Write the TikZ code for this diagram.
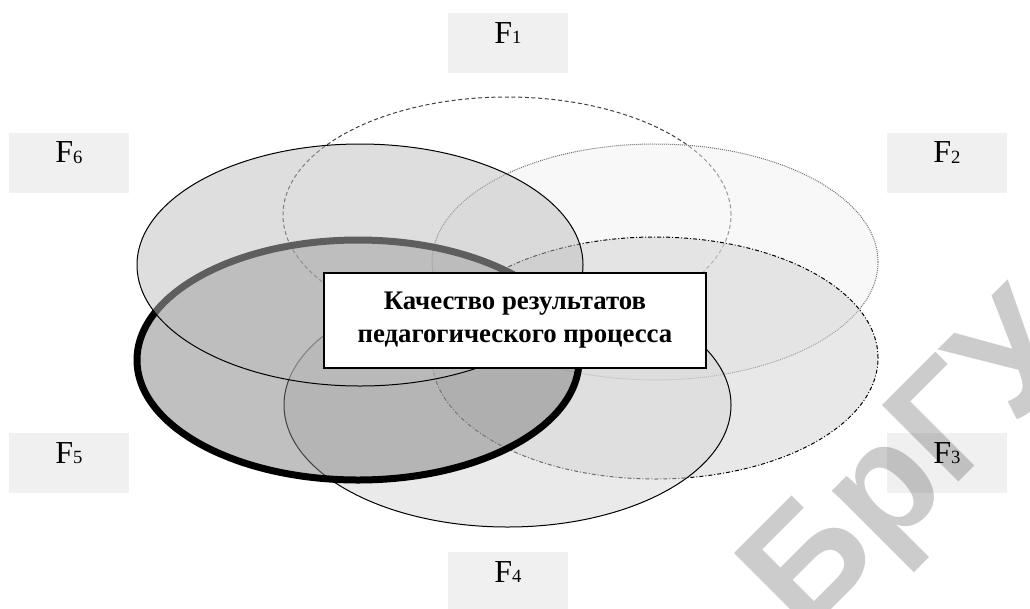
\documentclass[tikz,border=0pt]{standalone}
\usepackage{fontspec}
\setmainfont{Liberation Serif}
\newfontfamily\wmfont{Liberation Sans}

\definecolor{lblfill}{RGB}{240,240,240}
\definecolor{ftwo}{RGB}{241,241,241}
\definecolor{fthree}{RGB}{209,209,209}
\definecolor{ffour}{RGB}{214,214,214}
\definecolor{ffive}{RGB}{129,129,129}
\definecolor{fsix}{RGB}{189,189,189}

\newcommand{\fac}[1]{F\raisebox{-0.5pt}{\fontsize{14}{14}\selectfont #1}}

\begin{document}
\begin{tikzpicture}[x=0.75pt,y=-0.75pt,
  factorbox/.style={fill=lblfill, minimum width=90pt, minimum height=45pt,
    inner sep=0pt, text height=22.5pt, text depth=22.5pt,
    font=\fontsize{24}{28}\selectfont},
  ringone/.style={draw=black!75, line width=0.75pt, dash pattern=on 3pt off 2pt},
  ringtwo/.style={draw=black!55, line width=0.75pt, dash pattern=on 0.75pt off 0.75pt,
    fill=ftwo, fill opacity=0.5},
  ringthree/.style={draw=black, line width=0.75pt,
    dash pattern=on 3pt off 1.5pt on 0.75pt off 1.5pt, fill=fthree, fill opacity=0.5},
  ringfour/.style={draw=black, line width=0.75pt, fill=ffour, fill opacity=0.5},
  ringfive/.style={draw=black, line width=5.25pt, fill=ffive, fill opacity=0.5},
  ringsix/.style={draw=black, line width=0.75pt, fill=fsix, fill opacity=0.5},
  centerbox/.style={draw=black, line width=1.1pt, fill=white,
    minimum width=286.5pt, minimum height=71.25pt, align=center,
    font=\bfseries\fontsize{20.1}{24.75}\selectfont},
  stamp/.style={font=\wmfont\bfseries\fontsize{118}{118}\selectfont,
    text=black, text opacity=0.2, inner sep=0pt}
]
\useasboundingbox (0,0) rectangle (1030,608);

% overlapping factor areas, drawn from back to front
\draw[ringone]   (507,215)   ellipse [x radius=224*0.75pt,   y radius=118*0.75pt];
\draw[ringtwo]   (655,262)   ellipse [x radius=223*0.75pt,   y radius=118*0.75pt];
\draw[ringthree] (655,358)   ellipse [x radius=223*0.75pt,   y radius=121*0.75pt];
\draw[ringfour]  (507.5,405) ellipse [x radius=223.5*0.75pt, y radius=122*0.75pt];
\draw[ringfive]  (358,360)   ellipse [x radius=221*0.75pt,   y radius=120*0.75pt];
\draw[ringsix]   (360,265)   ellipse [x radius=223*0.75pt,   y radius=121*0.75pt];

% factor labels
\node[factorbox] (f1) at (508,43)    {\fac{1}};
\node[factorbox] (f2) at (947,162.5) {\fac{2}};
\node[factorbox] (f3) at (947,463)   {\fac{3}};
\node[factorbox] (f4) at (508,582)   {\fac{4}};
\node[factorbox] (f5) at (69,463)    {\fac{5}};
\node[factorbox] (f6) at (69,162.5)  {\fac{6}};

% result in the middle
\node[centerbox] (q) at (515,320.5) {Качество результатов\\педагогического процесса};

% library stamp
\node[stamp, rotate=45, anchor=base west] (wm) at (803,638) {БрГУ};
\end{tikzpicture}
\end{document}
